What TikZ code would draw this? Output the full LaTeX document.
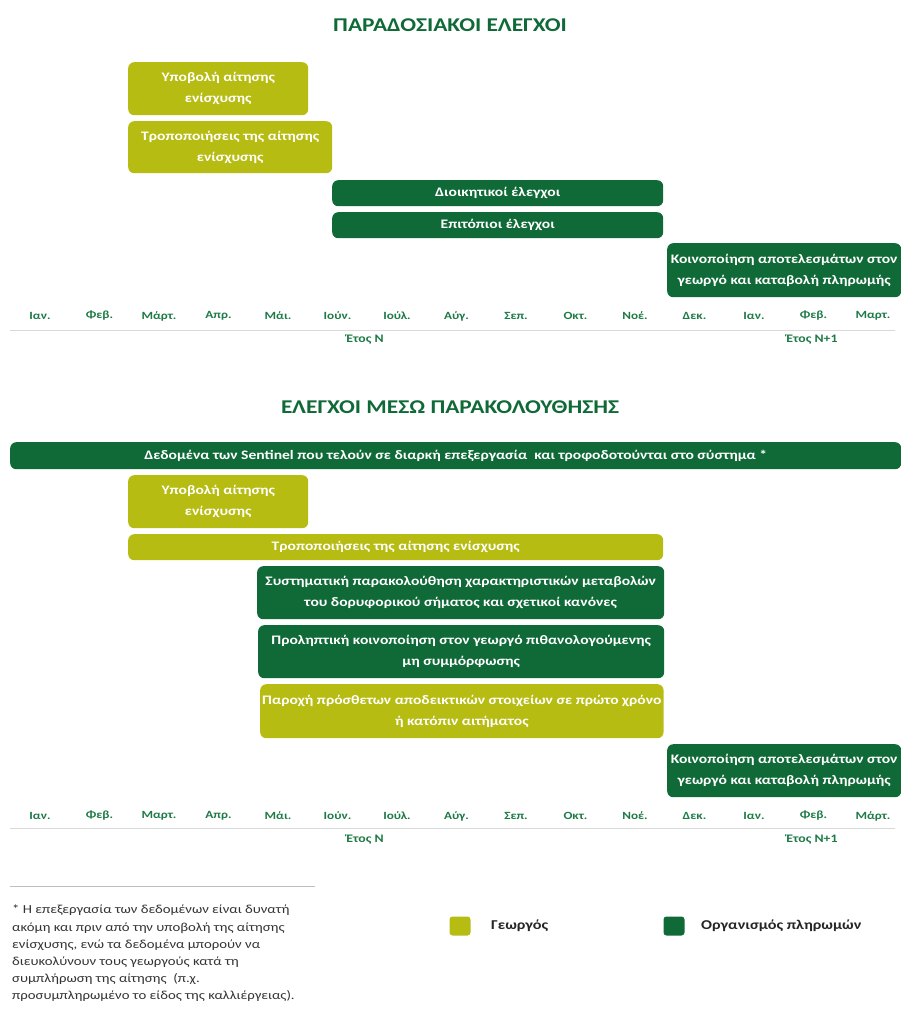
\documentclass[tikz,border=0pt]{standalone}
\usepackage{fontspec}
\setmainfont{Carlito}[FakeStretch=1.2]
\usepackage{xcolor}
\usetikzlibrary{positioning}
\definecolor{olive}{RGB}{183,188,18}
\definecolor{agro}{RGB}{16,106,56}
\definecolor{monthgreen}{RGB}{30,122,70}

\begin{document}
\begin{tikzpicture}[x=1pt, y=-1pt,
  box/.style={rounded corners=6pt, text=white, font=\bfseries\fontsize{13}{21}\selectfont, align=center, anchor=north west, inner sep=2pt},
  farmer/.style={box, fill=olive},
  agency/.style={box, fill=agro},
  title/.style={text=agro, font=\bfseries\fontsize{19.5}{22}\selectfont},
  month/.style={text=monthgreen, font=\bfseries\fontsize{11}{12}\selectfont},
  year/.style={text=monthgreen, font=\bfseries\fontsize{11.5}{13}\selectfont},
  legendsq/.style={rounded corners=3pt, minimum width=21, minimum height=19, inner sep=0pt},
  legendtxt/.style={text=black!85, font=\bfseries\fontsize{13.5}{15}\selectfont}]
  \useasboundingbox (0,0) rectangle (901,1010);

  % traditional checks
  \node[title] (t1) at (450,25) {ΠΑΡΑΔΟΣΙΑΚΟΙ ΕΛΕΓΧΟΙ};
  \node[farmer, minimum width=180, minimum height=53] (sub1) at (128,62) {Υποβολή αίτησης\\ενίσχυσης};
  \node[farmer, minimum width=204, minimum height=52] (mod1) at (128,121) {Τροποποιήσεις της αίτησης\\ενίσχυσης};
  \node[agency, minimum width=331, minimum height=26] (adm1) at (332,180) {Διοικητικοί έλεγχοι};
  \node[agency, minimum width=331, minimum height=26] (spot1) at (332,212) {Επιτόπιοι έλεγχοι};
  \node[agency, minimum width=234, minimum height=54] (pay1) at (667,243) {Κοινοποίηση αποτελεσμάτων στον\\γεωργό και καταβολή πληρωμής};

  \foreach \m [count=\i from 0] in {Ιαν.,Φεβ.,Μάρτ.,Απρ.,Μάι.,Ιούν.,Ιούλ.,Αύγ.,Σεπ.,Οκτ.,Νοέ.,Δεκ.,Ιαν.,Φεβ.,Μαρτ.}
    \node[month] (ma\i) at (40+59.5*\i,316) {\m};
  \draw[black!15, line width=1pt] (10,330) -- (895,330);
  \node[year] (ya1) at (365,340) {Έτος Ν};
  \node[year] (yb1) at (812,340) {Έτος Ν+1};

  % monitoring checks
  \node[title] (t2) at (450,407) {ΕΛΕΓΧΟΙ ΜΕΣΩ ΠΑΡΑΚΟΛΟΥΘΗΣΗΣ};
  \node[agency, minimum width=891, minimum height=27] (sent) at (10,442) {Δεδομένα των Sentinel που τελούν σε διαρκή επεξεργασία\ \ και τροφοδοτούνται στο σύστημα *};
  \node[farmer, minimum width=180, minimum height=53] (sub2) at (128,475) {Υποβολή αίτησης\\ενίσχυσης};
  \node[farmer, minimum width=535, minimum height=26] (mod2) at (128,534) {Τροποποιήσεις της αίτησης ενίσχυσης};
  \node[agency, minimum width=407, minimum height=53] (mon2) at (257,566) {Συστηματική παρακολούθηση χαρακτηριστικών μεταβολών\\του δορυφορικού σήματος και σχετικοί κανόνες};
  \node[agency, minimum width=406, minimum height=53] (warn2) at (258,625) {Προληπτική κοινοποίηση στον γεωργό πιθανολογούμενης\\μη συμμόρφωσης};
  \node[farmer, minimum width=403, minimum height=54] (evid2) at (260,684) {Παροχή πρόσθετων αποδεικτικών στοιχείων σε πρώτο χρόνο\\ή κατόπιν αιτήματος};
  \node[agency, minimum width=234, minimum height=53] (pay2) at (667,744) {Κοινοποίηση αποτελεσμάτων στον\\γεωργό και καταβολή πληρωμής};

  \foreach \m [count=\i from 0] in {Ιαν.,Φεβ.,Μαρτ.,Απρ.,Μάι.,Ιούν.,Ιούλ.,Αύγ.,Σεπ.,Οκτ.,Νοέ.,Δεκ.,Ιαν.,Φεβ.,Μάρτ.}
    \node[month] (mb\i) at (40+59.5*\i,816) {\m};
  \draw[black!15, line width=1pt] (10,828) -- (895,828);
  \node[year] (ya2) at (365,840) {Έτος Ν};
  \node[year] (yb2) at (812,840) {Έτος Ν+1};

  % footnote and legend
  \draw[black!25, line width=0.8pt] (10,886) -- (315,886);
  \node[anchor=north west, align=left, text=black!80, inner sep=0pt, font=\fontsize{12.3}{17.2}\selectfont] (note) at (12,905)
    {* Η επεξεργασία των δεδομένων είναι δυνατή\\ακόμη και πριν από την υποβολή της αίτησης\\ενίσχυσης, ενώ τα δεδομένα μπορούν να\\διευκολύνουν τους γεωργούς κατά τη\\συμπλήρωση της αίτησης\ \ (π.χ.\\προσυμπληρωμένο το είδος της καλλιέργειας).};
  \node[legendsq, fill=olive] (lf) at (460,926) {};
  \node[legendtxt, right=17pt of lf] (lft) {Γεωργός};
  \node[legendsq, fill=agro] (la) at (674,926) {};
  \node[legendtxt, right=13pt of la] (lat) {Οργανισμός πληρωμών};
\end{tikzpicture}
\end{document}
